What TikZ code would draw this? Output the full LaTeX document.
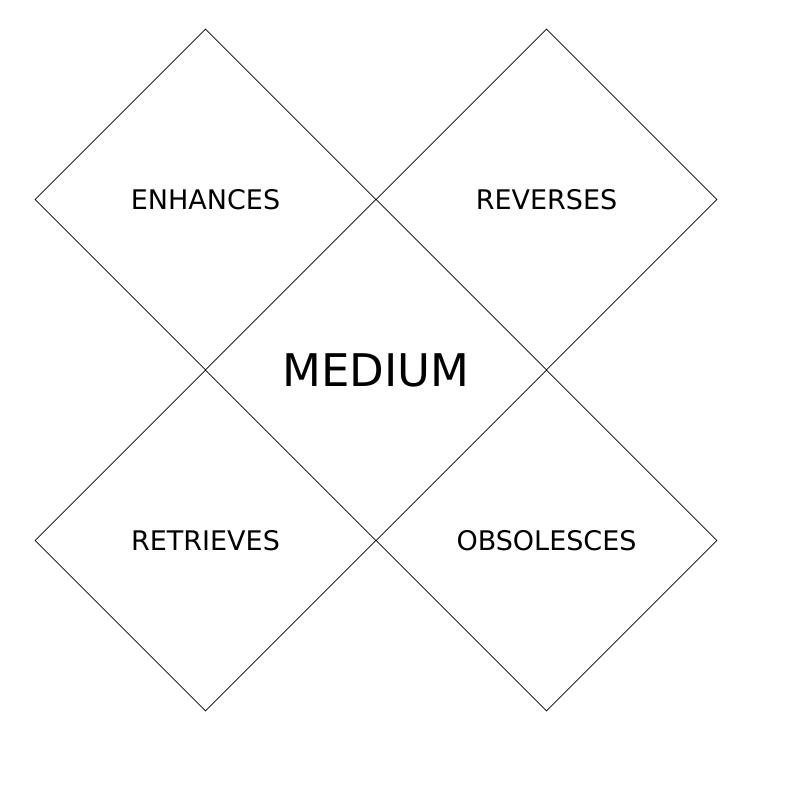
\documentclass[tikz,border=0pt]{standalone}
\usepackage{fontspec}
\setmainfont{DejaVu Sans}
\usetikzlibrary{shapes.geometric}
\tikzset{
  quad/.style={draw, line width=0.7pt, diamond, aspect=1, inner sep=0pt,
    minimum width=341pt, minimum height=341pt,
    font=\fontsize{27}{31}\selectfont},
  centrelabel/.style={font=\fontsize{45}{52}\selectfont, inner sep=0pt}
}
\begin{document}
\begin{tikzpicture}[x=1pt,y=-1pt]
\useasboundingbox (0,0) rectangle (800,794);
\node[quad] (enh) at (205.5,199.5) {ENHANCES};
\node[quad] (rev) at (546.5,199.5) {REVERSES};
\node[quad] (ret) at (205.5,540.5) {RETRIEVES};
\node[quad] (obs) at (546.5,540.5) {OBSOLESCES};
\node[centrelabel] (med) at (376,370) {MEDIUM};
\end{tikzpicture}
\end{document}
